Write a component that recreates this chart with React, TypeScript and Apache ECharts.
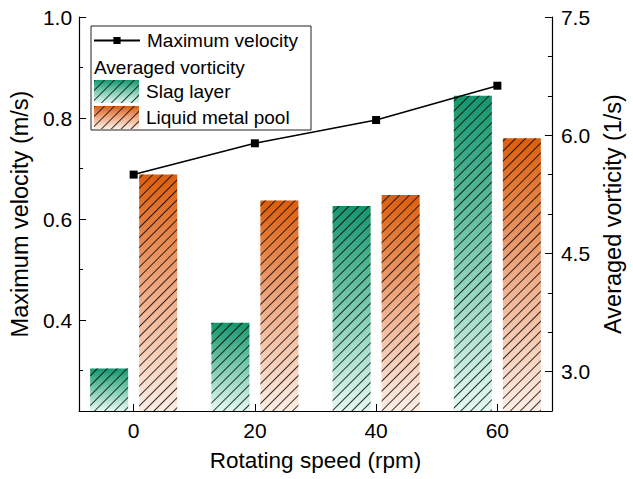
import React, { useEffect, useRef } from 'react';
import * as echarts from 'echarts';

const speeds = [0, 20, 40, 60];
const maxVelocity = [0.688, 0.75, 0.796, 0.864];
const slagVorticity = [3.04, 3.62, 5.1, 6.5];
const poolVorticity = [5.5, 5.17, 5.24, 5.96];
const xTicks = [0, 20, 40, 60];
const leftTicks = [0.4, 0.6, 0.8, 1.0];
const leftMinor = [0.3, 0.5, 0.7, 0.9];
const rightTicks = [3.0, 4.5, 6.0, 7.5];
const rightMinor = [3.5, 4.0, 5.0, 5.5, 6.5, 7.0];

const FONT = '"Liberation Sans", Arial, sans-serif';

const hatch = {
  symbol: 'rect',
  symbolSize: 1,
  dashArrayX: [1, 0],
  dashArrayY: [1, 6],
  rotation: -Math.PI / 4,
  color: 'rgba(0,0,0,0.8)',
};

const grad = (top: string, mid: string, bottom: string) =>
  new echarts.graphic.LinearGradient(0, 0, 0, 1, [
    { offset: 0, color: top },
    { offset: 0.5, color: mid },
    { offset: 1, color: bottom },
  ]);

export default function App() {
  const ref = useRef<HTMLDivElement>(null);
  useEffect(() => {
    if (!ref.current) return;
    const chart = echarts.init(ref.current, null, { renderer: 'svg' });
    const axisLine = { show: true, onZero: false, lineStyle: { color: '#000', width: 1.2 } };
    const tickStyle = { color: '#000', width: 1 };
    const labelStyle = { color: '#000', fontSize: 21, fontFamily: FONT };
    const nameStyle = { color: '#000', fontSize: 22.5, fontFamily: FONT };
    const yNameStyle = { color: '#000', fontSize: 23.5, fontFamily: FONT };
    chart.setOption({
      animation: false,
      textStyle: { fontFamily: FONT },
      grid: { left: 77, right: 66, top: 17, bottom: 68, containLabel: false },
      xAxis: {
        type: 'value',
        min: -9,
        max: 69,
        axisLine,
        splitLine: { show: false },
        axisTick: { inside: true, length: 7, lineStyle: tickStyle, customValues: xTicks },
        axisLabel: { ...labelStyle, margin: 9, customValues: xTicks },
        name: 'Rotating speed (rpm)',
        nameLocation: 'middle',
        nameGap: 38,
        nameTextStyle: nameStyle,
      },
      yAxis: [
        {
          type: 'value',
          position: 'left',
          min: 0.22,
          max: 1.0,
          axisLine,
          splitLine: { show: false },
          axisTick: { inside: true, length: 7, lineStyle: tickStyle, customValues: leftTicks },
          axisLabel: { ...labelStyle, margin: 7, customValues: leftTicks, formatter: (v: number) => v.toFixed(1) },
          name: 'Maximum velocity (m/s)',
          nameLocation: 'middle',
          nameGap: 44,
          nameTextStyle: yNameStyle,
        },
        {
          type: 'value',
          position: 'right',
          min: 2.5,
          max: 7.5,
          axisLine,
          splitLine: { show: false },
          axisTick: { inside: true, length: 7, lineStyle: tickStyle, customValues: rightTicks },
          axisLabel: { ...labelStyle, margin: 9, customValues: rightTicks, formatter: (v: number) => v.toFixed(1) },
          name: 'Averaged vorticity (1/s)',
          nameLocation: 'middle',
          nameGap: 42,
          nameTextStyle: yNameStyle,
        },
        {
          type: 'value',
          position: 'left',
          min: 0.22,
          max: 1.0,
          axisLine: { show: false, onZero: false },
          splitLine: { show: false },
          axisTick: { inside: true, length: 4, lineStyle: tickStyle, customValues: leftMinor },
          axisLabel: { show: false },
        },
        {
          type: 'value',
          position: 'right',
          min: 2.5,
          max: 7.5,
          axisLine: { show: false, onZero: false },
          splitLine: { show: false },
          axisTick: { inside: true, length: 4, lineStyle: tickStyle, customValues: rightMinor },
          axisLabel: { show: false },
        },
      ],
      legend: [
        {
          data: ['Maximum velocity'],
          left: 93,
          top: 31,
          itemWidth: 46,
          itemHeight: 9,
          itemGap: 4,
          textStyle: { color: '#000', fontSize: 19, fontFamily: FONT, padding: [0, 0, 0, 2] },
          padding: 0,
        },
        {
          data: ['Slag layer', 'Liquid metal pool'],
          orient: 'vertical',
          icon: 'rect',
          left: 94,
          top: 80,
          itemWidth: 45,
          itemHeight: 23,
          itemGap: 3,
          textStyle: { color: '#000', fontSize: 19, fontFamily: FONT, padding: [0, 0, 0, 2] },
          padding: 0,
        },
      ],
      graphic: [
        {
          type: 'rect',
          shape: { x: 91, y: 26, width: 220, height: 104 },
          style: { fill: 'none', stroke: '#222', lineWidth: 1 },
          z: 10,
        },
        {
          type: 'text',
          x: 94,
          y: 67,
          style: { text: 'Averaged vorticity', fill: '#000', fontSize: 19, fontFamily: FONT, verticalAlign: 'middle' },
          z: 10,
        },
      ],
      series: [
        {
          name: 'Slag layer',
          type: 'bar',
          xAxisIndex: 0,
          yAxisIndex: 1,
          barWidth: 38,
          barGap: '29%',
          data: speeds.map((s, i) => [s, slagVorticity[i]]),
          itemStyle: { color: grad('#14966d', '#7ccbb0', '#e4f9f2'), decal: hatch },
        },
        {
          name: 'Liquid metal pool',
          type: 'bar',
          xAxisIndex: 0,
          yAxisIndex: 1,
          barWidth: 38,
          barGap: '29%',
          data: speeds.map((s, i) => [s, poolVorticity[i]]),
          itemStyle: { color: grad('#dc5e0c', '#f0ab86', '#fdeee4'), decal: hatch },
        },
        {
          name: 'Maximum velocity',
          type: 'line',
          xAxisIndex: 0,
          yAxisIndex: 0,
          z: 5,
          data: speeds.map((s, i) => [s, maxVelocity[i]]),
          symbol: 'rect',
          symbolSize: 8,
          lineStyle: { color: '#000', width: 1.5 },
          itemStyle: { color: '#000' },
        },
      ],
    });
    return () => chart.dispose();
  }, []);
  return <div ref={ref} style={{ width: 633, height: 479, position: 'absolute', left: 0, top: 0 }} />;
}
